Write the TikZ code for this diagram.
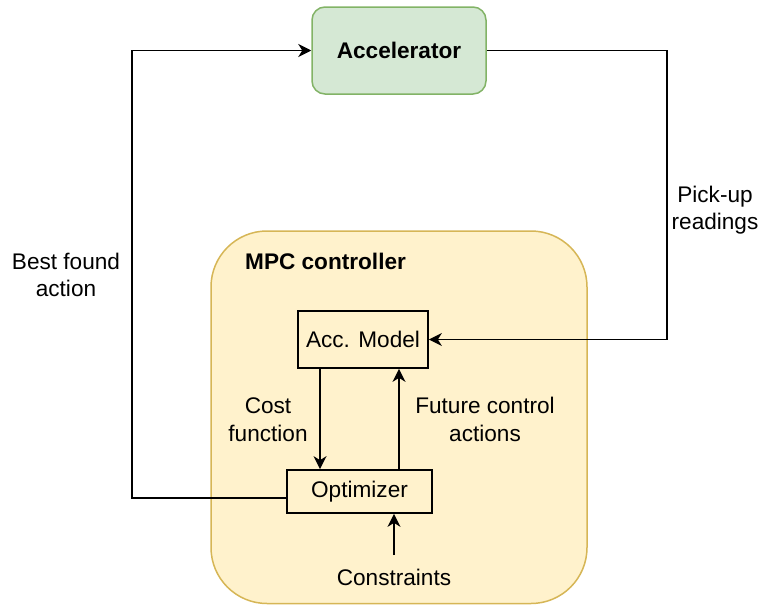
\documentclass[tikz,border=0pt]{standalone}
\usepackage{fontspec}
\setmainfont{Liberation Sans}
\usetikzlibrary{arrows.meta,calc}
\definecolor{accfill}{HTML}{D5E8D4}
\definecolor{accline}{HTML}{82B366}
\definecolor{mpcfill}{HTML}{FFF2CC}
\definecolor{mpcline}{HTML}{D6B656}
\tikzset{
  txt/.style={inner sep=0pt, align=center, font=\fontsize{22.6}{27.5}\selectfont},
  block/.style={draw=black, line width=1.7pt, inner sep=0pt, font=\fontsize{22.6}{27.5}\selectfont},
  wire/.style={line width=1.7pt, draw=black},
  arr/.style={wire, -{Stealth[length=13pt,width=13pt,inset=4pt]}},
}
\begin{document}
\begin{tikzpicture}[x=1pt,y=-1pt]
\useasboundingbox (0,0) rectangle (762,605);

% controller frame
\draw[fill=mpcfill, draw=mpcline, line width=1.5pt, rounded corners=56pt]
  (211,231) rectangle (587,603.5);
\node[txt, anchor=west, font=\fontsize{22.6}{27.5}\selectfont\bfseries] (mpc) at (245,261) {MPC controller};

% plant
\node[block, draw=accline, fill=accfill, line width=1.5pt, rounded corners=13pt,
      minimum width=174pt, minimum height=87pt, font=\fontsize{22.6}{27.5}\selectfont\bfseries]
  (acc) at (399,50.5) {Accelerator};

% controller internals
\node[block, minimum width=130pt, minimum height=57pt] (model) at (363,339.5) {Acc. Model};
\node[block, minimum width=145pt, minimum height=43pt] (opt) at (359.5,491.5) {Optimizer};

% labels
\node[txt] (lbest) at (66,275) {Best found\\action};
\node[txt] (lpick) at (715,210) {Pick-up\\readings};
\node[txt] (lcost) at (268,419.5) {Cost\\function};
\node[txt] (lfut) at (485,419.5) {Future control\\actions};
\node[txt] (lcons) at (394,577.5) {Constraints};

% connectors
\coordinate (cfeed) at (394,555);
\draw[arr] ([yshift=-6.5pt]opt.west) -| (acc.west -| 132,0) -- (acc.west);
\draw[arr] (acc.east) -| (667,339.5) -- (model.east);
\draw[arr] (model.south -| 320,0) -- (opt.north -| 320,0);
\draw[arr] (opt.north -| 399,0) -- (model.south -| 399,0);
\draw[arr] (cfeed) -- (opt.south -| cfeed);
\end{tikzpicture}
\end{document}
